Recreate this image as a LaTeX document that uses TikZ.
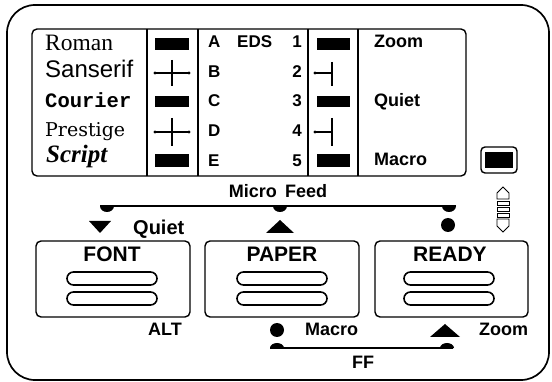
\documentclass[tikz,border=0pt]{standalone}
\usepackage{fontspec}
\setmainfont{Liberation Serif}
\setsansfont{Liberation Sans}
\newfontfamily\monofnt{Liberation Mono}
\newfontfamily\prestfnt{DejaVu Serif}
\newcommand{\fsz}[1]{\fontsize{#1}{#1}\selectfont}
\begin{document}
\begin{tikzpicture}[x=1pt,y=-1pt,
  lbl/.style={font=\sffamily\bfseries\fsz{18}, inner sep=0pt, anchor=base west},
  lblc/.style={font=\sffamily\bfseries\fsz{18}, inner sep=0pt, anchor=base},
  sml/.style={font=\sffamily\bfseries\fsz{17}, inner sep=0pt, anchor=base west},
  btn/.style={font=\sffamily\bfseries\fsz{21}, inner sep=0pt, anchor=base},
  fnt/.style={inner sep=0pt, anchor=base west},
  frame/.style={line width=1.4pt, rounded corners=5pt},
  pill/.style={line width=1.6pt, rounded corners=6.5pt},
  thin/.style={line width=1.3pt}
]
\useasboundingbox (0,0) rectangle (552,382);
% outer border
\draw[line width=1.7pt, rounded corners=28pt] (7,5) rectangle (549,380);
% upper panel
\draw[frame] (32,29) rectangle (466,176);
\foreach \xx in {147,198,308,358} \draw[thin] (\xx,29) -- (\xx,176);
% column 1: font names
\node[fnt, font=\fsz{23.5}] (roman) at (45,51) {Roman};
\node[fnt, font=\sffamily\fsz{24}] (sans) at (45,78) {Sanserif};
\node[fnt, font=\monofnt\bfseries\fsz{20.5}] (cour) at (45,108) {Courier};
\node[fnt, font=\prestfnt\fsz{19}] (prest) at (45,137) {Prestige};
\node[fnt, font=\bfseries\itshape\fsz{25}] (script) at (46,163) {Script};
% column 2 icons
\fill (155,38) rectangle (189,50);
\fill (155,96) rectangle (189,107);
\fill (155,154) rectangle (189,167);
\draw[thin] (155,73) -- (189,73) (172,60) -- (172,86);
\fill (155,73) circle[radius=1.7pt] (189,73) circle[radius=1.7pt];
\draw[thin] (155,132) -- (189,132) (172,118) -- (172,146);
\fill (155,132) circle[radius=1.7pt] (189,132) circle[radius=1.7pt];
% column 3 letters
\node[sml] (la) at (208,48) {A};
\node[sml] (eds) at (237,48) {EDS};
\node[sml] (lb) at (208,78) {B};
\node[sml] (lc) at (208,107) {C};
\node[sml] (ld) at (208,137) {D};
\node[sml] (le) at (208,167) {E};
\foreach \nn/\yy in {1/48,2/78,3/107,4/137,5/167}
  \node[font=\sffamily\bfseries\fsz{17}, inner sep=0pt, anchor=base east] (n\nn) at (302,\yy) {\nn};
% column 4 icons
\fill (317,38) rectangle (350,50);
\fill (317,96) rectangle (350,107);
\fill (317,154) rectangle (350,167);
\draw[thin] (315,73) -- (332,73) (332,62) -- (332,86);
\fill (315,73) circle[radius=1.7pt];
\draw[thin] (315,132) -- (332,132) (332,118) -- (332,146);
\fill (315,132) circle[radius=1.7pt];
% column 5
\node[lbl] (zoomt) at (374,48) {Zoom};
\node[lbl] (quiett) at (374,107) {Quiet};
\node[lbl] (macrot) at (374,166) {Macro};
% indicator
\draw[line width=1.4pt, rounded corners=4pt] (481,147) rectangle (517,173);
\fill (485,152) rectangle (513,168);
\draw[line width=0.8pt] (503,187) -- (509,193) -- (509,199) -- (497,199) -- (497,193) -- cycle;
\draw[line width=0.8pt] (497,201) rectangle (509,205) (497,207) rectangle (509,211) (497,213) rectangle (509,217);
\draw[line width=0.8pt] (497,219) -- (509,219) -- (509,226) -- (503,232) -- (497,226) -- cycle;
% Micro Feed
\node[lblc] (mf) at (278,198) {Micro\hskip0.45em Feed};
\coordinate (mfL) at (100,206);
\coordinate (mfR) at (456,206);
\draw[thin] (mfL) -- (mfR);
\foreach \xx in {107,280,449}
  \fill (\xx-7,206) arc[start angle=180, end angle=360, x radius=7pt, y radius=6pt] -- cycle;
\fill (89,221) -- (111,221) -- (100,233) -- cycle;
\node[lbl, font=\sffamily\bfseries\fsz{20}] (quietb) at (133,235) {Quiet};
\fill (266,233) -- (294,233) -- (280,220) -- cycle;
\fill (448,225) circle[radius=7pt];
% buttons
\draw[frame] (36,241) rectangle (190,317);
\draw[frame] (205,241) rectangle (359,317);
\draw[frame] (375,241) rectangle (528,317);
\node[btn] (font) at (112,262) {FONT};
\node[btn] (paper) at (282,262) {PAPER};
\node[btn] (ready) at (450,262) {READY};
\foreach \cx in {112,282,449} {
  \draw[pill] (\cx-45,272) rectangle (\cx+45,285);
  \draw[pill] (\cx-45,292) rectangle (\cx+45,305);
}
\node[lbl] (alt) at (148,335) {ALT};
% bottom
\fill (277,330) circle[radius=7pt];
\node[lbl] (macrob) at (305,335) {Macro};
\fill (430,337) -- (460,337) -- (445,324) -- cycle;
\node[lbl] (zoomb) at (479,335) {Zoom};
\coordinate (ffL) at (270,348);
\coordinate (ffR) at (453,348);
\draw[thin] (ffL) -- (ffR);
\foreach \xx in {277,447}
  \fill (\xx-7,348) arc[start angle=180, end angle=0, x radius=7pt, y radius=5pt] -- cycle;
\node[lblc] (ff) at (363,368) {FF};
\end{tikzpicture}
\end{document}
